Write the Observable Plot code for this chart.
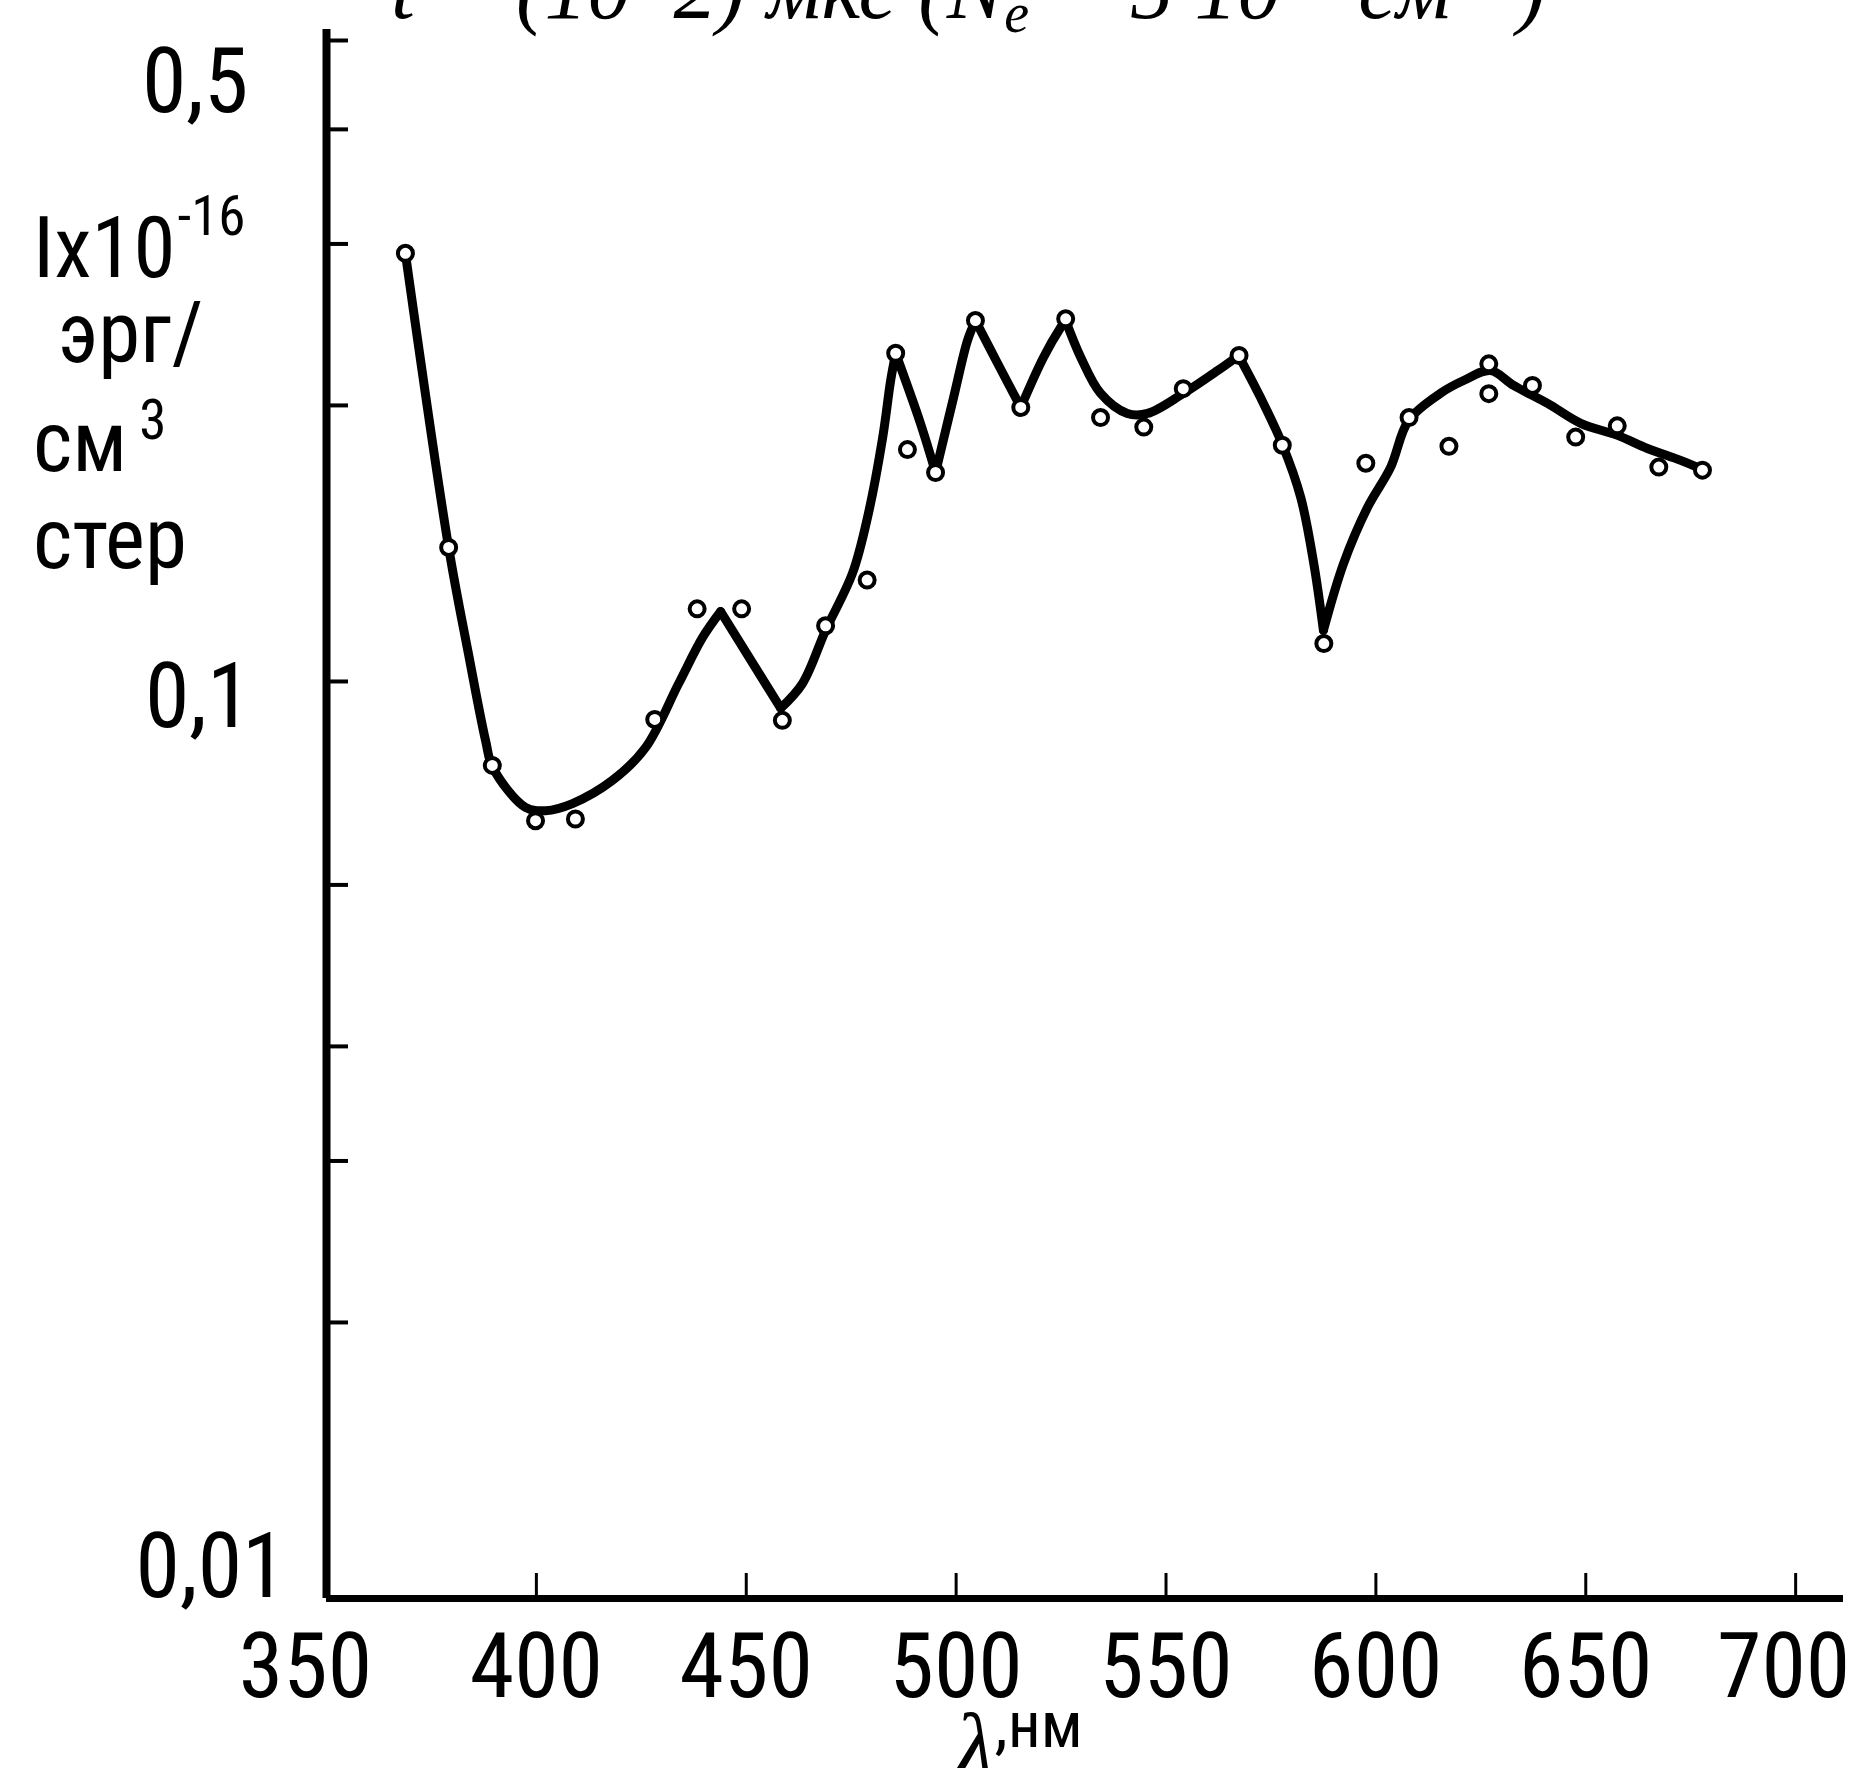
<!DOCTYPE html>
<html>
<head>
<meta charset="utf-8">
<script src="https://cdn.jsdelivr.net/npm/d3@7"></script>
<script src="https://cdn.jsdelivr.net/npm/@observablehq/plot@0.6"></script>
<style>
  html, body { margin: 0; padding: 0; background: #fff; }
  #chart svg { display: block; }
</style>
</head>
<body>
<div id="chart"></div>
<script>
// Measured points: wavelength (nm) and intensity (×10^-16 erg/(cm^3·sr))
const pointWavelengths = [368.8, 379.1, 389.5, 399.8, 409.3, 428.2, 438.3, 448.9, 458.6, 468.9,
  478.8, 485.6, 488.4, 495.1, 504.6, 515.4, 526.1, 534.4, 544.7, 554.1,
  567.4, 577.7, 587.6, 597.6, 607.9, 617.4, 626.9, 626.9, 637.3, 647.6,
  657.5, 667.4, 677.8];
const pointIntensities = [0.293, 0.140, 0.081, 0.0705, 0.0708, 0.0909, 0.120, 0.120, 0.0907, 0.115,
  0.129, 0.228, 0.179, 0.169, 0.2475, 0.199, 0.2486, 0.194, 0.1894, 0.2086,
  0.2267, 0.181, 0.110, 0.173, 0.194, 0.1805, 0.222, 0.206, 0.2103, 0.1847,
  0.190, 0.1713, 0.170];

// Hand-fitted spectral curve drawn through the measurements
const curveWavelengths = [368.8, 379.1, 383.8, 387.9, 389.6, 397.4, 402.2, 408.6,
  418.1, 426.0, 433.9, 439.6, 443.9, 458.2, 463.4, 468.9, 475.3, 479.1,
  482.5, 484.4, 485.6, 491.5, 495.1, 499.4, 502.7, 504.6, 509.9, 515.4,
  520.8, 524.9, 526.1, 529.7, 534.4, 540.8, 545.6, 554.2, 562.3, 567.3,
  572.5, 577.8, 582.1, 585.2, 587.5, 592.3, 598.0, 603.5, 607.8, 615.4,
  620.9, 627.3, 632.8, 640.9, 648.8, 657.6, 664.7, 672.6, 677.9];
const curveIntensities = [0.2929, 0.1400, 0.1073, 0.0862, 0.0806, 0.0729, 0.0723, 0.0736,
  0.0780, 0.0847, 0.0995, 0.1117, 0.1192, 0.0935, 0.0995, 0.1137, 0.1312, 0.1525,
  0.1845, 0.2129, 0.2279, 0.1912, 0.1690, 0.2041, 0.2354, 0.2475, 0.2222, 0.1990,
  0.2256, 0.2432, 0.2475, 0.2256, 0.2062, 0.1960, 0.1960, 0.2062, 0.2183, 0.2267,
  0.2041, 0.1809, 0.1587, 0.1345, 0.1137, 0.1345, 0.1548, 0.1712, 0.1926, 0.2062,
  0.2129, 0.2183, 0.2103, 0.2010, 0.1912, 0.1855, 0.1795, 0.1742, 0.1702];
// Wavelengths where the curve has a sharp peak or notch
const curveCorners = [443.9, 458.2, 485.6, 495.1, 504.6, 515.4, 526.1, 567.3, 587.5];

// Axis ticks and labels
const xTickValues = [400, 450, 500, 550, 600, 650, 700];
const xLabelValues = [350, 400, 450, 500, 550, 600, 650, 700];
const yTickValues = [0.02, 0.03, 0.04, 0.06, 0.1, 0.2, 0.3, 0.4, 0.5];
const yLabelValues = [0.5, 0.1, 0.01];
const yLabelTexts = ["0,5", "0,1", "0,01"];

const points = pointWavelengths.map((w, i) => ({w, v: pointIntensities[i]}));

// Split the curve into smooth pieces joined at the sharp corners
const curveRows = [];
let piece = 0;
curveWavelengths.forEach((w, i) => {
  curveRows.push({w, v: curveIntensities[i], piece});
  if (curveCorners.includes(w)) {
    piece++;
    curveRows.push({w, v: curveIntensities[i], piece});
  }
});

const narrow = '"Liberation Sans Narrow", "Arial Narrow", "Roboto Condensed", "Liberation Sans", sans-serif';
const serif = '"Liberation Serif", "DejaVu Serif", serif';
const labelSize = 90;

// Horizontal nudges of individual x tick labels
const xLabelShift = {350: -21, 700: -12};
const xLabelAxes = xLabelValues.map(v => Plot.axisX([v], {
  label: null,
  tickSize: 0,
  tickPadding: 35,
  dx: xLabelShift[v] || 0,
  fontSize: labelSize,
  fontFamily: narrow,
  tickFormat: d => String(d)
}));

// Per-label offsets of the y tick labels (padding from axis, vertical shift)
const yLabelPadding = [78, 75, 40];
const yLabelShift = [43, 17, -30];
const yLabelAxes = yLabelValues.map((v, i) => Plot.axisY([v], {
  label: null,
  tickSize: 0,
  tickPadding: yLabelPadding[i],
  dy: yLabelShift[i],
  tickFormat: () => yLabelTexts[i],
  fontSize: labelSize,
  fontFamily: narrow
}));

const chart = Plot.plot({
  width: 1860,
  height: 1768,
  marginLeft: 326,
  marginRight: 17,
  marginTop: 29,
  marginBottom: 170,
  style: {background: "#fff", color: "#000", fontFamily: narrow},
  x: {domain: [350, 711.4], axis: null},
  y: {type: "log", domain: [0.01, 0.514], axis: null},
  marks: [
    // inward ticks
    Plot.axisY(yTickValues, {label: null, tickSize: -22, strokeWidth: 4, tickFormat: () => ""}),
    Plot.axisX(xTickValues, {label: null, tickSize: -25, strokeWidth: 3, tickFormat: () => ""}),
    // tick labels
    ...xLabelAxes,
    ...yLabelAxes,
    // axis lines
    Plot.ruleX([350], {stroke: "#000", strokeWidth: 8}),
    Plot.ruleY([0.01], {stroke: "#000", strokeWidth: 7}),
    // fitted curve and measured points
    Plot.line(curveRows, {x: "w", y: "v", z: "piece", curve: "catmull-rom", stroke: "#000",
      strokeWidth: 9, strokeLinejoin: "round", strokeLinecap: "round"}),
    Plot.dot(points, {x: "w", y: "v", r: 7.5, fill: "#fff", stroke: "#000", strokeWidth: 4})
  ]
});

document.getElementById("chart").appendChild(chart);

const svg = d3.select(chart);

// Heading line (runs off the top edge of the figure)
const title = svg.append("text")
  .attr("x", 391).attr("y", 18)
  .attr("text-anchor", "start")
  .attr("font-family", serif)
  .attr("font-style", "italic")
  .attr("font-size", 86)
  .attr("fill", "#000");
title.append("tspan").text("t = (10–2) мкс (N");
title.append("tspan").attr("font-size", 56).attr("dy", 14).text("e");
title.append("tspan").attr("dy", -14).text(" = 5·10");
title.append("tspan").attr("font-size", 56).attr("dy", -34).text("17");
title.append("tspan").attr("dy", 34).text(" см");
title.append("tspan").attr("font-size", 56).attr("dy", -34).text("−3");
title.append("tspan").attr("dy", 34).text(")");

// Y-axis quantity and units, stacked to the left of the axis
const ylab = svg.append("g")
  .attr("font-family", narrow)
  .attr("font-size", 85)
  .attr("text-anchor", "start")
  .attr("fill", "#000");
const l1 = ylab.append("text").attr("x", 33).attr("y", 277);
l1.append("tspan").text("Ix10");
l1.append("tspan").attr("font-size", 55).attr("dx", 2).attr("dy", -42).text("-16");
ylab.append("text").attr("x", 58).attr("y", 362).text("эрг/");
const l3 = ylab.append("text").attr("x", 33).attr("y", 471);
l3.append("tspan").text("см");
l3.append("tspan").attr("font-size", 55).attr("dx", 12).attr("dy", -32).text("3");
ylab.append("text").attr("x", 33).attr("y", 568).text("стер");

// X-axis label
const xlab = svg.append("text")
  .attr("x", 955).attr("y", 1776)
  .attr("text-anchor", "start")
  .attr("fill", "#000");
xlab.append("tspan")
  .attr("font-family", serif)
  .attr("font-style", "italic")
  .attr("font-size", 92)
  .text("λ");
xlab.append("tspan")
  .attr("font-family", narrow)
  .attr("font-size", 65)
  .attr("dy", -29)
  .text(",нм");
</script>
</body>
</html>
